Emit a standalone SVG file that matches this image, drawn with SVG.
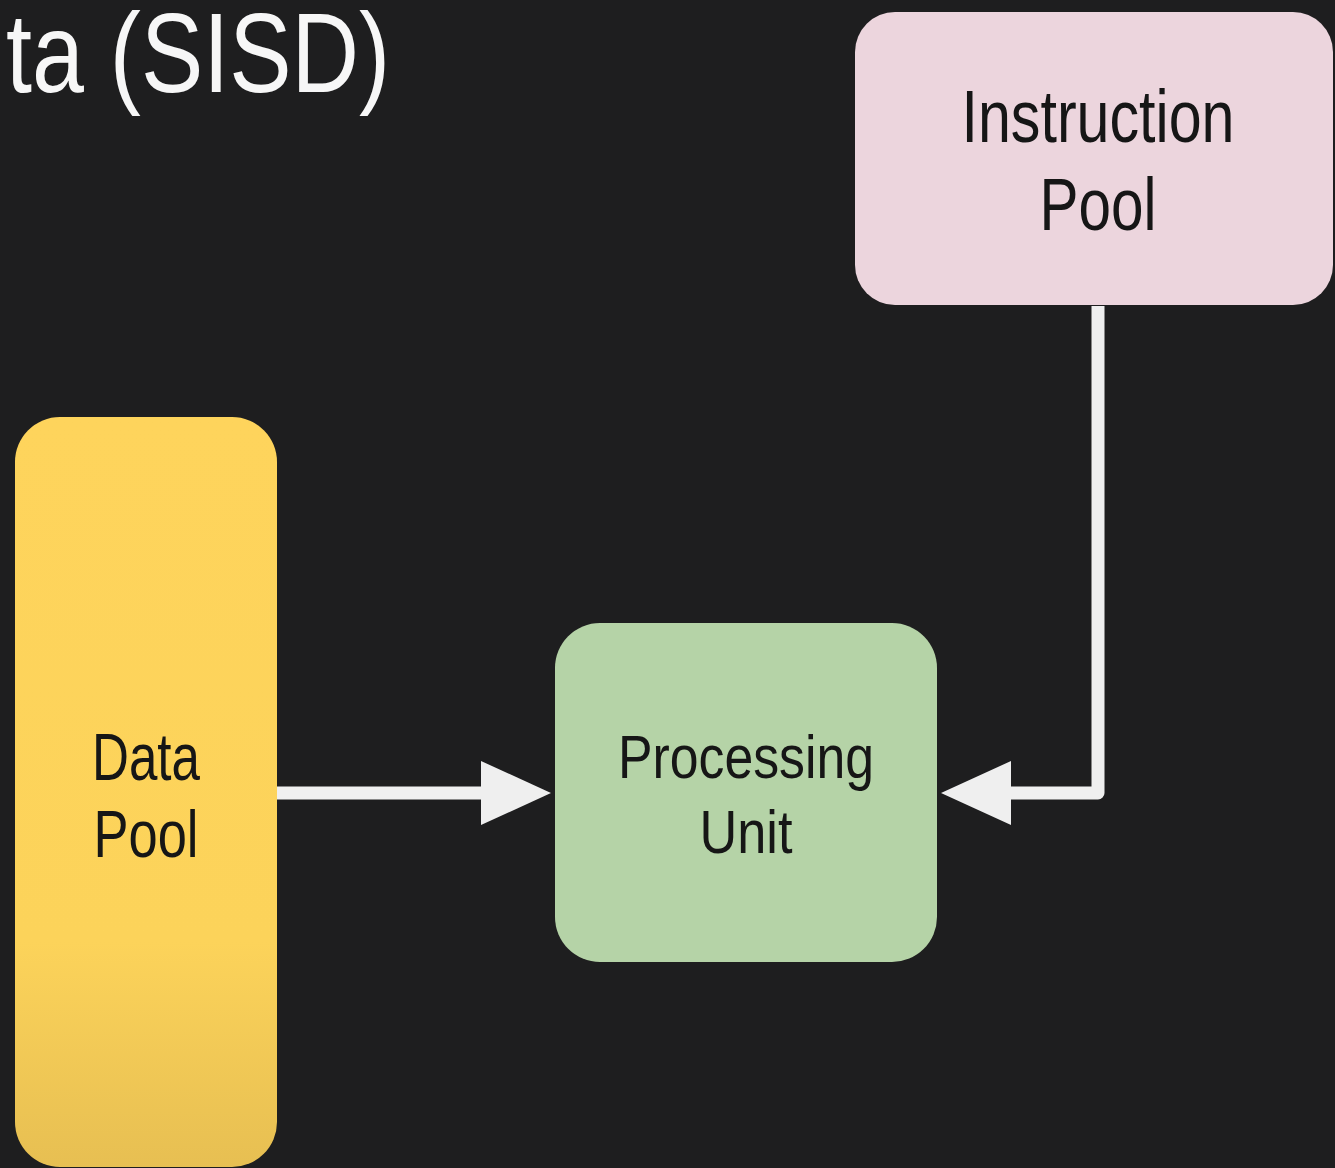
<svg xmlns="http://www.w3.org/2000/svg" width="1335" height="1168" viewBox="0 0 1335 1168">
<style>
  .lbl { font-family: "Liberation Sans", Arial, sans-serif; fill: #161616; text-anchor: middle; }
  .wire { fill: none; stroke: #efefef; stroke-width: 13; stroke-linejoin: round; }
</style>
<defs>
  <linearGradient id="yel" x1="0" y1="0" x2="0" y2="1">
    <stop offset="0" stop-color="#fed45c"/>
    <stop offset="0.7" stop-color="#fcd35a"/>
    <stop offset="1" stop-color="#e7bf52"/>
  </linearGradient>
  <marker id="ah" markerUnits="userSpaceOnUse" markerWidth="72" markerHeight="66" refX="0" refY="33" orient="auto" viewBox="0 0 72 66">
    <path d="M0,1 L70,33 L0,65 z" fill="#efefef"/>
  </marker>
</defs>
<rect width="1335" height="1168" fill="#1e1e1f"/>
<text x="6" y="92" font-family="Liberation Sans, Arial, sans-serif" font-size="114" fill="#f7f7f7" textLength="384" lengthAdjust="spacingAndGlyphs">ta (SISD)</text>

<g id="instruction-pool">
  <rect x="855" y="12" width="478" height="293" rx="40" fill="#ecd5dd"/>
  <text class="lbl" x="1098" y="142" font-size="75" textLength="273" lengthAdjust="spacingAndGlyphs">Instruction</text>
  <text class="lbl" x="1098" y="230" font-size="75" textLength="117" lengthAdjust="spacingAndGlyphs">Pool</text>
</g>

<g id="data-pool">
  <rect x="15" y="417" width="262" height="750" rx="45" fill="url(#yel)"/>
  <text class="lbl" x="146" y="780" font-size="66" textLength="108" lengthAdjust="spacingAndGlyphs">Data</text>
  <text class="lbl" x="146" y="857" font-size="66" textLength="105" lengthAdjust="spacingAndGlyphs">Pool</text>
</g>

<g id="processing-unit">
  <rect x="555" y="623" width="382" height="339" rx="45" fill="#b5d3a7"/>
  <text class="lbl" x="746" y="778" font-size="62" textLength="256" lengthAdjust="spacingAndGlyphs">Processing</text>
  <text class="lbl" x="746" y="853" font-size="62" textLength="93" lengthAdjust="spacingAndGlyphs">Unit</text>
</g>

<g id="connectors">
  <path class="wire" d="M277,793 H481" marker-end="url(#ah)"/>
  <path class="wire" d="M1098,306 V793 H1011" marker-end="url(#ah)"/>
</g>
</svg>
